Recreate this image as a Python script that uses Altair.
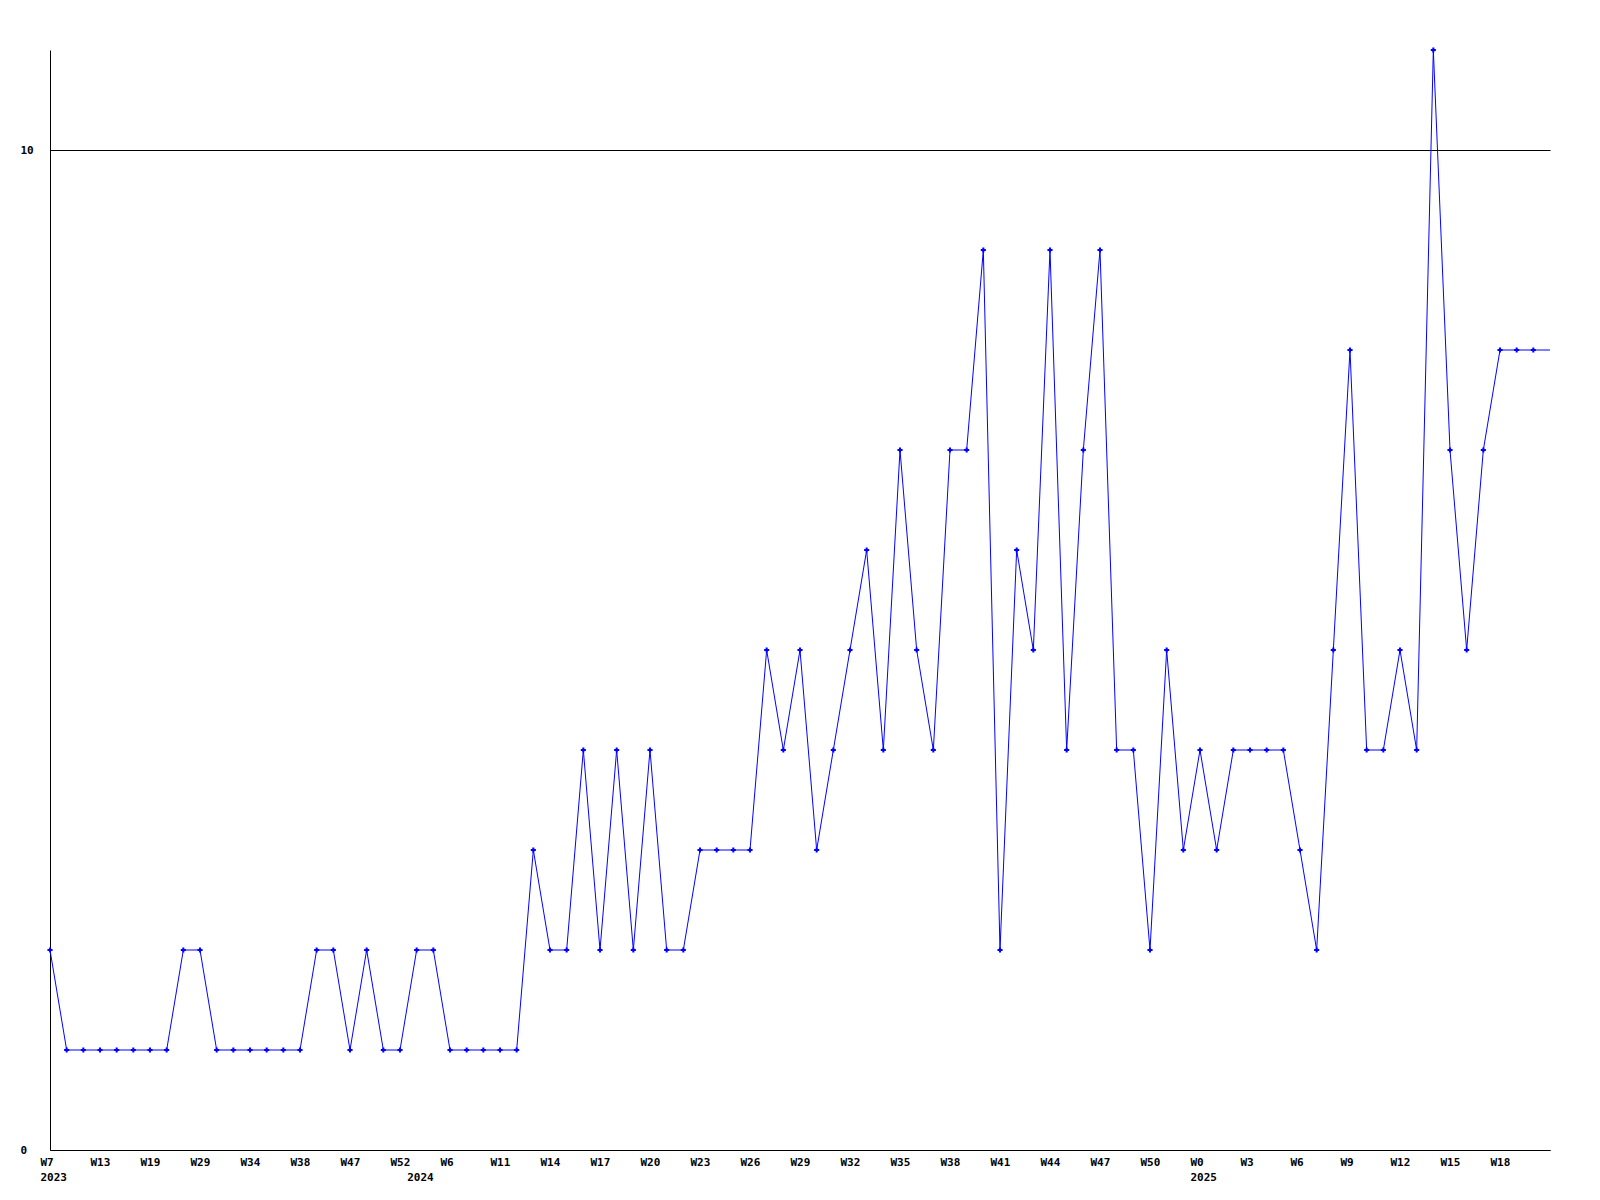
import json
import altair as alt
import pandas as pd

# weekly counts, one value per week (last week still in progress)
values = [2, 1, 1, 1, 1, 1, 1, 1, 2, 2,
          1, 1, 1, 1, 1, 1, 2, 2, 1, 2,
          1, 1, 2, 2, 1, 1, 1, 1, 1, 3,
          2, 2, 4, 2, 4, 2, 4, 2, 2, 3,
          3, 3, 3, 5, 4, 5, 3, 4, 5, 6,
          4, 7, 5, 4, 7, 7, 9, 2, 6, 5,
          9, 4, 7, 9, 4, 4, 2, 5, 3, 4,
          3, 4, 4, 4, 4, 3, 2, 5, 8, 4,
          4, 5, 4, 11, 7, 5, 7, 8, 8, 8,
          8]

# week tick labels, shown every third week
week_labels = ["W7", "W13", "W19", "W29", "W34", "W38", "W47", "W52",
               "W6", "W11", "W14", "W17", "W20", "W23", "W26", "W29",
               "W32", "W35", "W38", "W41", "W44", "W47", "W50",
               "W0", "W3", "W6", "W9", "W12", "W15", "W18"]
label_step = 3

# year labels and the week index at which each year starts
years = ["2023", "2024", "2025"]
year_start = [0, 22, 69]

n = len(values)
df = pd.DataFrame({"i": list(range(n)), "v": values})

labels = [""] * n
for k, w in enumerate(week_labels):
    labels[k * label_step] = w
lab_arr = [[l, ""] for l in labels]
for y, p in zip(years, year_start):
    lab_arr[p] = [labels[p], y]
tick_vals = sorted(set([k * label_step for k in range(len(week_labels))] + year_start))

label_expr = json.dumps(lab_arr) + "[datum.value]"

FONT = "DejaVu Sans Mono"
BLUE = "#0000ff"

x = alt.X("i:Q",
          scale=alt.Scale(domain=[0, n - 1], nice=False, zero=False),
          axis=alt.Axis(title=None, values=tick_vals, labelExpr=label_expr,
                        ticks=False, tickSize=0, grid=False,
                        labelAlign="left", labelOffset=-10, labelBaseline="top",
                        labelPadding=6, labelLineHeight=15.5,
                        labelOverlap=False, labelFlush=False, labelBound=False,
                        domainColor="black", domainWidth=1,
                        labelFont=FONT, labelFontSize=11, labelFontWeight="bold",
                        labelColor="black"))
y = alt.Y("v:Q",
          scale=alt.Scale(domain=[0, 11], nice=False, zero=True),
          axis=alt.Axis(title=None, values=[0, 10], ticks=False, tickSize=0,
                        grid=True, gridColor="black", gridOpacity=1, gridWidth=1,
                        labelAlign="left", labelPadding=30, labelBaseline="middle",
                        labelFont=FONT, labelFontSize=11, labelFontWeight="bold",
                        labelColor="black", labelOverlap=False, labelFlush=False,
                        domainColor="black", domainWidth=1))

base = alt.Chart(df).encode(x=x, y=y)
line = base.mark_line(color=BLUE, strokeWidth=1, clip=True)
pts = base.transform_filter(alt.datum.i < n - 1).mark_point(
    shape="cross", filled=True, size=26, color=BLUE, opacity=1)

chart = (line + pts).properties(
    width=1500, height=1100,
    autosize=alt.AutoSizeParams(type="none"),
    padding={"left": 42, "top": 42, "right": 40, "bottom": 40},
    background="white",
).configure_view(strokeWidth=0)

chart.save("out.html", embed_options={"renderer": "svg", "actions": False})
